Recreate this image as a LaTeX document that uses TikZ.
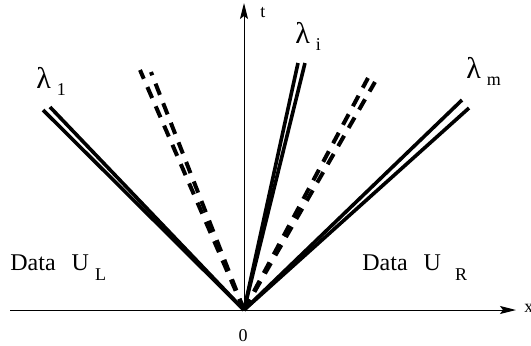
\documentclass[tikz,border=0pt]{standalone}
\usepackage{fontspec}
\setmainfont{Liberation Serif}
\usetikzlibrary{arrows.meta}

\newcommand{\subsz}{\fontsize{9}{10}\selectfont}
\newcommand{\lamsub}[1]{{\fontsize{15}{16}\selectfont λ}\kern3pt\raisebox{-3.5pt}{\subsz #1}}

\tikzset{
  axis/.style={line width=0.5pt, -{Stealth[length=8pt,width=4pt,inset=1.5pt]}},
  wave/.style={line width=1.8pt},
  dashwave/.style={line width=2pt, dash pattern=on 6pt off 4.5pt},
  lab/.style={inner sep=0pt, font=\fontsize{12}{14}\selectfont},
  small/.style={inner sep=0pt, font=\subsz}
}

\begin{document}
\begin{tikzpicture}[x=0.5pt, y=0.5pt]
    \useasboundingbox (0,0) rectangle (531,345);

    % Axes
    \coordinate (O) at (244,35);
    \coordinate (xl) at (10,35);
    \coordinate (xr) at (516,35);
    \coordinate (tt) at (244,342);
    \draw[axis] (xl) -- (xr);
    \draw[axis] (O) -- (tt);
    \node[small, anchor=west] (xlab) at (524,37) {x};
    \node[small, anchor=base west] (tlab) at (260,328) {t};
    \node[small, anchor=base] (zero) at (243,4) {0};

    % Wave ends
    \coordinate (l1a) at (43,235);
    \coordinate (l1b) at (50,238);
    \coordinate (d1a) at (140,275);
    \coordinate (d1b) at (151,273);
    \coordinate (lia) at (298,282);
    \coordinate (lib) at (305,282);
    \coordinate (d2a) at (368,267);
    \coordinate (d2b) at (375,263);
    \coordinate (lma) at (462,245);
    \coordinate (lmb) at (469,237);

    % Waves
    \draw[wave] (O) -- (l1a);
    \draw[wave] (O) -- (l1b);
    \draw[dashwave] (O) -- (d1a);
    \draw[dashwave] (O) -- (d1b);
    \draw[wave] (O) -- (lia);
    \draw[wave] (O) -- (lib);
    \draw[dashwave] (O) -- (d2a);
    \draw[dashwave] (O) -- (d2b);
    \draw[wave] (O) -- (lma);
    \draw[wave] (O) -- (lmb);

    % Labels
    \node[lab, anchor=base west] (lam1) at (36,257) {\lamsub{1}};
    \node[lab, anchor=base west] (lami) at (295,302) {\lamsub{i}};
    \node[lab, anchor=base west] (lamm) at (466,267) {\lamsub{m}};
    \node[lab, anchor=base west] (dataL) at (10,75) {Data\hspace{8pt}U\kern3pt\raisebox{-5pt}{\subsz L}};
    \node[lab, anchor=base west] (dataR) at (362,75) {Data\hspace{8pt}U\kern7pt\raisebox{-5pt}{\subsz R}};
\end{tikzpicture}
\end{document}
